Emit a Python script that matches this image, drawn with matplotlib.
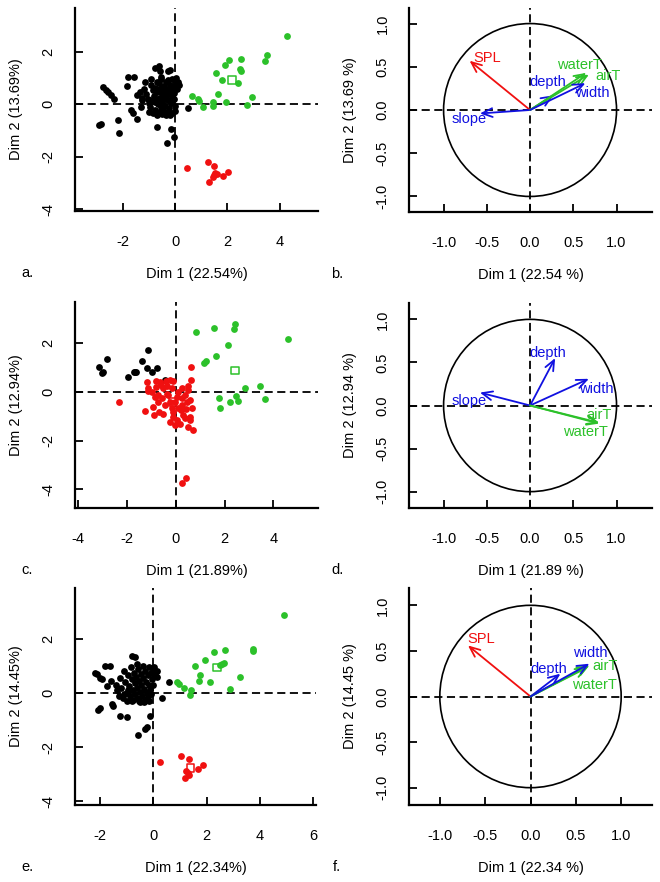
import numpy as np
import matplotlib
matplotlib.use("Agg")
import matplotlib.pyplot as plt
from matplotlib.patches import Circle

plt.rcParams['font.family'] = ['Liberation Sans', 'DejaVu Sans']
plt.rcParams['font.size'] = 10.5

GREEN = '#2cc12a'
RED = '#f01010'
BLUE = '#1010e0'

# ---------------- individuals (left column) ----------------
a_black = [(-2.74, 0.65), (-2.65, 0.56), (-2.55, 0.46), (-2.46, 0.37), (-2.32, 0.20),
           (-2.89, -0.79), (-2.81, -0.74), (-2.16, -0.61), (-2.14, -1.11),
           (-1.78, 1.03), (-1.57, 1.03), (-1.82, 0.70), (-1.68, -0.22), (-1.62, -0.34),
           (-1.46, -0.56), (-1.46, 0.36), (-1.34, 0.48), (-1.27, 0.23), (-0.67, -0.85),
           (-0.32, -1.46), (-0.15, -0.94), (-0.03, -1.23), (0.0, -0.24), (0.48, -0.15),
           (-0.76, 1.37), (-0.60, 1.44), (-0.57, 1.25), (-0.25, 1.25), (-0.19, 1.31),
           (-1.20, 0.60), (-1.10, 0.40), (-1.05, 0.20), (-1.00, 0.05), (-0.95, -0.10),
           (-0.90, 0.75), (-0.85, 0.55), (-0.80, 0.30), (-0.78, 0.10), (-0.75, -0.20),
           (-0.70, 0.85), (-0.68, 0.45), (-0.65, 0.00), (-0.62, -0.30), (-0.60, 0.60),
           (-0.58, 0.25), (-0.55, -0.10), (-0.52, 0.95), (-0.50, 0.40), (-0.48, 0.10),
           (-0.45, -0.25), (-0.42, 0.70), (-0.40, 0.50), (-0.38, -0.05), (-0.35, 0.30),
           (-0.33, 0.85), (-0.30, -0.30), (-0.28, 0.15), (-0.25, 0.60), (-0.22, -0.15),
           (-0.20, 0.40), (-0.18, 0.75), (-0.15, 0.05), (-0.12, 0.95), (-0.10, -0.35),
           (-0.08, 0.50), (-0.05, 0.20), (-0.03, 0.70), (0.00, 0.90), (0.05, 1.00),
           (0.10, 0.85), (0.15, 0.75), (-0.02, -0.05), (-0.12, 0.30), (-0.60, 0.80),
           (-0.90, 0.95), (-1.15, 0.85), (-1.25, 0.15), (-1.30, -0.10), (-1.00, -0.30),
           (-0.85, -0.35), (-0.70, -0.40), (-0.50, -0.38), (-0.35, -0.40), (-0.20, -0.42),
           (-0.40, 0.20), (-0.65, 0.20), (-0.88, 0.15), (-0.48, 0.62), (-0.28, 0.92),
           (-0.75, 0.62), (-0.55, 1.05), (-0.15, 0.58), (-0.05, 0.42), (0.08, 0.60)]
a_green = [(0.64, 0.32), (0.87, 0.19), (0.93, 0.14), (1.08, -0.09), (1.46, -0.06),
           (1.46, 0.10), (1.65, 0.39), (1.81, 0.93), (1.55, 1.21), (1.91, 1.49),
           (1.93, 0.10), (2.07, 1.67), (2.39, 0.80), (2.48, 1.34), (2.52, 1.27),
           (2.53, 1.73), (2.74, -0.01), (2.95, 0.29), (3.45, 1.65), (3.51, 1.86), (4.29, 2.62)]
a_red = [(0.46, -2.44), (1.25, -2.19), (1.48, -2.34), (1.54, -2.63), (1.59, -2.66),
         (1.44, -2.79), (1.30, -2.98), (1.84, -2.72), (2.01, -2.58), (1.49, -2.69)]
a_centers = [(2.18, 0.92, GREEN)]

c_black = [(-3.13, 1.02), (-3.01, 0.78), (-2.97, 0.82), (-2.83, 1.33), (-1.94, 0.61),
           (-1.73, 0.81), (-1.66, 0.83), (-1.63, 0.82), (-1.39, 1.26), (-1.12, 1.71),
           (-1.16, 1.00), (-0.98, 0.82), (-0.78, 0.96), (-0.45, 0.48)]
c_red = [(-0.85, -0.20), (-0.71, -0.41), (-0.57, -0.27), (-0.44, -0.55), (-0.30, -0.14),
         (-0.16, -0.68), (-0.03, -0.41), (0.11, 0.00), (0.25, 0.14), (0.38, -0.14),
         (0.52, 0.07), (0.59, -0.34), (0.22, -0.75), (0.31, -0.95), (0.04, -1.16),
         (-0.10, -1.02), (-0.23, -1.23), (-0.03, -1.36), (0.18, -1.30), (0.38, -1.09),
         (0.59, -1.02), (0.66, -0.68), (0.49, -1.43), (0.72, -1.57), (-0.98, 0.00),
         (-0.92, -0.61), (-0.51, -0.89), (-0.37, -0.07), (-0.16, 0.14), (0.04, -0.20),
         (-0.68, -0.82), (-0.51, 0.14), (-0.23, -0.41), (0.45, -0.41), (0.25, -0.27),
         (0.11, -0.68), (-0.71, -0.14), (-0.10, -0.82), (0.59, -1.16), (0.25, -0.55),
         (0.63, 1.03), (-1.19, 0.41), (-0.82, 0.45), (-0.64, 0.42), (-0.39, 0.45),
         (-0.23, 0.49), (-0.10, 0.45), (-1.15, 0.14), (-1.15, 0.03), (-2.32, -0.43),
         (-1.28, -0.79), (-0.88, -0.95), (0.25, -3.73), (0.42, -3.54), (0.61, 0.48),
         (0.52, 0.23), (-0.60, 0.30), (-0.35, 0.25), (-0.80, 0.20), (0.40, -0.70)]
c_green = [(0.82, 2.46), (1.57, 2.64), (2.39, 2.60), (2.43, 2.77), (2.13, 1.91),
           (1.63, 1.46), (1.24, 1.26), (1.17, 1.19), (4.58, 2.17), (2.84, 0.16),
           (3.44, 0.26), (3.67, -0.31), (1.79, -0.25), (1.80, -0.66), (2.24, -0.42),
           (2.46, -0.19), (2.54, -0.36)]
c_centers = [(2.43, 0.89, GREEN), (-0.14, -0.41, RED)]

e_black = [(-0.81, 1.38), (-0.69, 1.34), (-1.82, 1.01), (-1.63, 1.01), (-2.13, 0.70),
           (-2.00, 0.57), (-1.94, 0.51), (-2.19, 0.72), (-1.75, 0.26), (-2.06, -0.61),
           (-2.00, -0.57), (-1.56, -0.42), (-1.50, -0.48), (-1.25, -0.85), (-1.00, -0.88),
           (-0.56, -1.55), (-0.31, -1.34), (-0.25, -1.27), (-0.13, -0.85), (0.31, -0.17),
           (0.60, 0.42), (0.13, 0.82), (-1.40, 0.30), (-1.35, 0.10), (-1.30, -0.10),
           (-1.25, 0.55), (-1.20, 0.20), (-1.15, -0.20), (-1.10, 0.80), (-1.05, 0.40),
           (-1.00, 0.00), (-0.98, -0.30), (-0.95, 0.65), (-0.90, 0.25), (-0.88, -0.10),
           (-0.85, 0.95), (-0.80, 0.50), (-0.78, 0.10), (-0.75, -0.25), (-0.72, 0.75),
           (-0.70, 0.35), (-0.68, -0.05), (-0.65, 0.60), (-0.62, 0.20), (-0.60, -0.20),
           (-0.58, 0.90), (-0.55, 0.45), (-0.52, 0.05), (-0.50, -0.35), (-0.48, 0.70),
           (-0.45, 0.30), (-0.42, -0.10), (-0.40, 1.00), (-0.38, 0.55), (-0.35, 0.15),
           (-0.32, -0.25), (-0.30, 0.80), (-0.28, 0.40), (-0.25, 0.00), (-0.22, 0.65),
           (-0.20, -0.15), (-0.18, 0.95), (-0.15, 0.30), (-0.12, 0.10), (-0.10, 0.75),
           (-0.08, -0.05), (-0.05, 0.50), (-0.02, 0.85), (0.02, 0.95), (0.05, 0.70),
           (-0.60, 1.05), (-0.95, 0.10), (-1.10, -0.05), (-0.82, -0.30), (-0.55, -0.30),
           (-0.35, -0.35), (-0.15, -0.30), (0.15, 0.60), (0.00, 0.30), (-1.60, 0.45)]
e_green = [(0.88, 0.39), (0.96, 0.32), (1.15, 0.17), (1.40, 0.10), (1.38, -0.09),
           (1.55, 1.01), (1.75, 0.66), (1.73, 0.45), (1.93, 1.22), (2.13, 0.42),
           (2.26, 1.50), (2.51, 1.03), (2.59, 1.07), (2.66, 1.09), (2.67, 1.59),
           (2.89, 0.14), (3.25, 0.60), (3.73, 1.63), (3.73, 1.55), (4.90, 2.88)]
e_red = [(0.23, -2.55), (1.05, -2.32), (1.32, -2.42), (1.23, -2.86), (1.30, -2.96),
         (1.17, -3.13), (1.35, -3.01), (1.69, -2.82), (1.88, -2.67)]
e_centers = [(2.38, 0.93, GREEN), (1.39, -2.77, RED)]

# ---------------- variables (right column) ----------------
b_vars = ['SPL', 'slope', 'depth', 'waterT', 'airT', 'width']
b_x = [-0.70, -0.58, 0.27, 0.65, 0.68, 0.64]
b_y = [0.57, -0.04, 0.17, 0.43, 0.41, 0.31]
b_col = [RED, BLUE, BLUE, GREEN, GREEN, BLUE]
b_lab = [(-0.50, 0.60), (-0.70, -0.10), (0.20, 0.32), (0.57, 0.52), (0.90, 0.39), (0.72, 0.20)]

d_vars = ['depth', 'width', 'slope', 'airT', 'waterT']
d_x = [0.29, 0.68, -0.58, 0.80, 0.80]
d_y = [0.55, 0.31, 0.15, -0.20, -0.21]
d_col = [BLUE, BLUE, BLUE, GREEN, GREEN]
d_lab = [(0.21, 0.61), (0.77, 0.19), (-0.70, 0.05), (0.80, -0.11), (0.64, -0.31)]

f_vars = ['SPL', 'depth', 'waterT', 'airT', 'width']
f_x = [-0.69, 0.33, 0.63, 0.65, 0.65]
f_y = [0.56, 0.25, 0.32, 0.34, 0.36]
f_col = [RED, BLUE, GREEN, GREEN, BLUE]
f_lab = [(-0.54, 0.63), (0.20, 0.30), (0.70, 0.13), (0.82, 0.33), (0.66, 0.48)]

W, H = 660, 882
fig = plt.figure(figsize=(W / 100, H / 100), dpi=100)


def px_axes(l, t, r, b):
    return fig.add_axes([l / W, 1 - b / H, (r - l) / W, (b - t) / H])


def style(ax, xlim, ylim, xt, yt, fmt):
    ax.set_xlim(*xlim)
    ax.set_ylim(*ylim)
    for s in ['top', 'right']:
        ax.spines[s].set_visible(False)
    for s in ['left', 'bottom']:
        ax.spines[s].set_linewidth(1.6)
    ax.set_xticks(xt)
    ax.set_yticks(yt)
    ax.set_xticklabels([fmt % v for v in xt])
    ax.set_yticklabels([fmt % v for v in yt], rotation=90, va='center')
    ax.tick_params(direction='in', length=6, width=1.3, labelsize=10.5)
    ax.tick_params(axis='x', pad=17)
    ax.tick_params(axis='y', pad=14)
    ax.axhline(0, color='k', lw=1.3, ls=(0, (4.5, 2.5)))
    ax.axvline(0, color='k', lw=1.3, ls=(0, (4.5, 2.5)))


def indiv(ax, groups, centers):
    for pts, col in groups:
        pts = np.array(pts)
        ax.scatter(pts[:, 0], pts[:, 1], s=24, color=col, lw=0, zorder=3)
    for x, y, col in centers:
        ax.scatter([x], [y], s=28, marker='s', facecolor='none', edgecolor=col, lw=1.1, zorder=4)


def varplot(ax, names, xs, ys, cols, labs):
    ax.add_patch(Circle((0, 0), 1, fill=False, lw=1.2, color='k'))
    for n, x, y, c, (lx, ly) in zip(names, xs, ys, cols, labs):
        ax.annotate('', xy=(x, y), xytext=(0, 0),
                    arrowprops=dict(arrowstyle='->,head_length=0.7,head_width=0.3',
                                    color=c, lw=1.3, shrinkA=0, shrinkB=0))
        ax.text(lx, ly, n, color=c, fontsize=10.5, ha='center', va='center')


def labels(box, xlab, ylab, tag, ylab_dx):
    l, t, r, b = box
    fig.text((l + r) / 2 / W, 1 - (b + 63) / H, xlab, ha='center', va='center', fontsize=10.5)
    fig.text((l - ylab_dx) / W, 1 - (t + b) / 2 / H, ylab, rotation=90,
             ha='center', va='center', fontsize=10.5)
    tx = 27 if l < 200 else 337
    fig.text(tx / W, 1 - (b + 62) / H, tag, ha='center', va='center', fontsize=10.5)


circ_ticks = [-1.0, -0.5, 0.0, 0.5, 1.0]

# a
box = (75, 8, 318, 211)
ax = px_axes(*box)
style(ax, (-3.82, 5.46), (-4.07, 3.67), [-2, 0, 2, 4], [-4, -2, 0, 2], '%d')
indiv(ax, [(a_black, 'k'), (a_green, GREEN), (a_red, RED)], a_centers)
labels(box, 'Dim 1 (22.54%)', 'Dim 2 (13.69%)', 'a.', 59)

# b
box = (409, 8, 652, 212)
ax = px_axes(*box)
style(ax, (-1.40, 1.41), (-1.18, 1.18), circ_ticks, circ_ticks, '%.1f')
varplot(ax, b_vars, b_x, b_y, b_col, b_lab)
labels(box, 'Dim 1 (22.54 %)', 'Dim 2 (13.69 %)', 'b.', 59)

# c
box = (75, 302, 318, 508)
ax = px_axes(*box)
style(ax, (-4.13, 5.83), (-4.77, 3.69), [-4, -2, 0, 2, 4], [-4, -2, 0, 2], '%d')
indiv(ax, [(c_black, 'k'), (c_red, RED), (c_green, GREEN)], c_centers)
labels(box, 'Dim 1 (21.89%)', 'Dim 2 (12.94%)', 'c.', 59)

# d
box = (409, 303, 652, 508)
ax = px_axes(*box)
style(ax, (-1.40, 1.41), (-1.19, 1.19), circ_ticks, circ_ticks, '%.1f')
varplot(ax, d_vars, d_x, d_y, d_col, d_lab)
labels(box, 'Dim 1 (21.89 %)', 'Dim 2 (12.94 %)', 'd.', 59)

# e
box = (75, 588, 316, 805)
ax = px_axes(*box)
style(ax, (-2.94, 6.1), (-4.13, 3.87), [-2, 0, 2, 4, 6], [-4, -2, 0, 2], '%d')
indiv(ax, [(e_black, 'k'), (e_green, GREEN), (e_red, RED)], e_centers)
labels(box, 'Dim 1 (22.34%)', 'Dim 2 (14.45%)', 'e.', 59)

# f
box = (409, 588, 652, 805)
ax = px_axes(*box)
style(ax, (-1.34, 1.34), (-1.19, 1.19), circ_ticks, circ_ticks, '%.1f')
varplot(ax, f_vars, f_x, f_y, f_col, f_lab)
labels(box, 'Dim 1 (22.34 %)', 'Dim 2 (14.45 %)', 'f.', 59)

fig.savefig('out.png', dpi=100)
